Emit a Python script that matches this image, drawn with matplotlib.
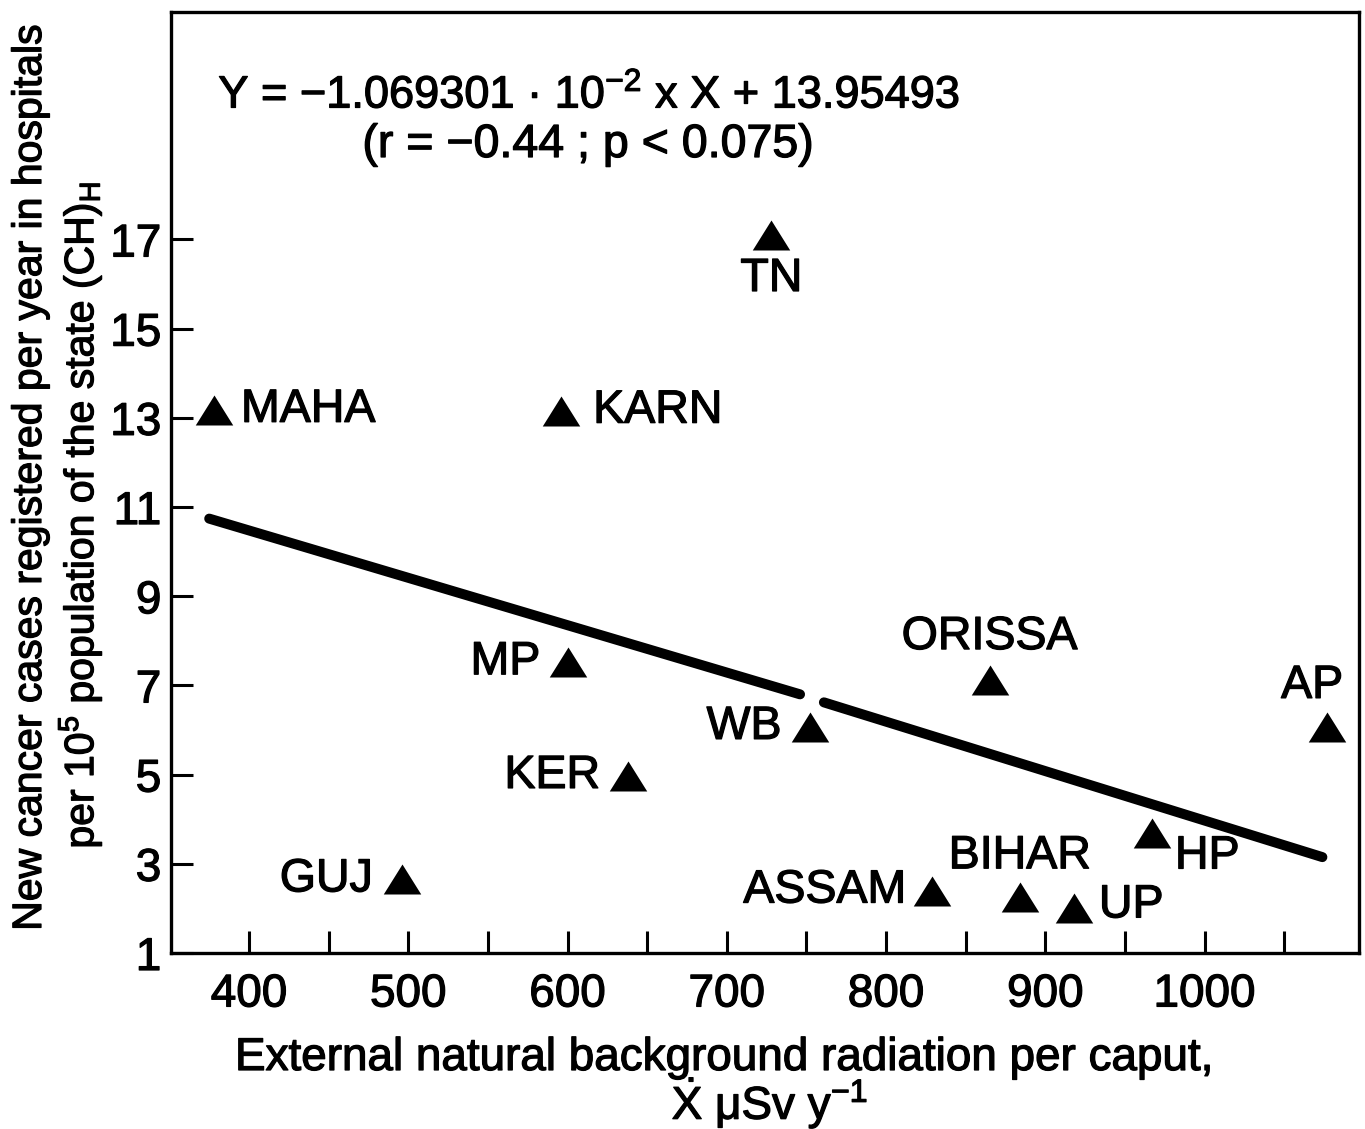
import matplotlib
matplotlib.use("Agg")
import matplotlib.pyplot as plt
import matplotlib.patheffects as pe
from matplotlib.path import Path
from matplotlib.ticker import FixedLocator

plt.rcParams['font.family'] = ['Liberation Sans', 'DejaVu Sans']
plt.rcParams['mathtext.fontset'] = 'custom'
plt.rcParams['mathtext.rm'] = 'Liberation Sans'
plt.rcParams['mathtext.it'] = 'Liberation Sans:italic'
plt.rcParams['mathtext.bf'] = 'Liberation Sans:bold'

# ---- data ----
states = ["MAHA", "KARN", "TN", "MP", "KER", "GUJ", "WB",
          "ORISSA", "AP", "HP", "ASSAM", "BIHAR", "UP"]
radiation = [378, 596, 728, 600, 638, 496, 752, 865, 1077, 967, 829, 884, 918]
cases = [13.18, 13.16, 17.1, 7.52, 4.97, 2.65, 6.07, 7.12, 6.07, 3.68, 2.4, 2.25, 2.0]

fit_seg1_x = [375, 746]
fit_seg1_y = [10.74, 6.80]
fit_seg2_x = [761, 1074]
fit_seg2_y = [6.62, 3.15]

x_major = [400, 500, 600, 700, 800, 900, 1000]
x_minor = [450, 550, 650, 750, 850, 950, 1050]
y_ticks = [1, 3, 5, 7, 9, 11, 13, 15, 17]

eq_line1 = r"Y = −1.069301 · 10$^{-2}$ x X + 13.95493"
eq_line2 = "(r = −0.44 ; p < 0.075)"
xlabel1 = "External natural background radiation per caput,"
xlabel2 = r"$\dot{\mathrm{X}}$ μSv y$^{-1}$"
ylabel1 = "New cancer cases registered per year in hospitals"
ylabel2 = r"per 10$^{5}$ population of the state (CH)$_{\mathrm{H}}$"

# label placement (pixel offsets, alignment)
label_style = {
    "MAHA": ((27, 0), "left"),
    "KARN": ((32, 0), "left"),
    "TN": ((0, -44), "center"),
    "MP": ((-27, 0), "right"),
    "KER": ((-28, 0), "right"),
    "GUJ": ((-29, 0), "right"),
    "WB": ((-28, 0), "right"),
    "ORISSA": ((0, 43), "center"),
    "AP": ((-15, 41), "center"),
    "HP": ((23, -23), "left"),
    "ASSAM": ((-26, 0), "right"),
    "BIHAR": ((0, 41), "center"),
    "UP": ((25, 3), "left"),
}

thick = [pe.withStroke(linewidth=0.9, foreground='black')]

W, H = 1365, 1129
fig = plt.figure(figsize=(W / 100, H / 100), dpi=100)
L, R, B, T = 171, 1359, 953, 12
ax = fig.add_axes([L / W, 1 - B / H, (R - L) / W, (B - T) / H])
ax.set_xlim(351, 1097)
ax.set_ylim(1, 22.1)

tri = Path([(-1, -0.8), (1, -0.8), (0, 0.8), (-1, -0.8)],
           [Path.MOVETO, Path.LINETO, Path.LINETO, Path.CLOSEPOLY])
ax.plot(radiation, cases, linestyle='none', marker=tri, markersize=27,
        color='black', markeredgewidth=0)

ax.plot(fit_seg1_x, fit_seg1_y, color='black', lw=7.2, solid_capstyle='round')
ax.plot(fit_seg2_x, fit_seg2_y, color='black', lw=7.2, solid_capstyle='round')

for name, xv, yv in zip(states, radiation, cases):
    (dx, dy), ha = label_style[name]
    ax.annotate(name, (xv, yv), xytext=(dx, dy), textcoords='offset pixels',
                ha=ha, va='center', fontsize=33.5, path_effects=thick)

ax.xaxis.set_major_locator(FixedLocator(x_major))
ax.xaxis.set_minor_locator(FixedLocator(x_minor))
ax.yaxis.set_major_locator(FixedLocator(y_ticks))
ax.tick_params(axis='x', which='both', direction='in', length=16, width=2.2,
               labelsize=33, pad=14, top=False)
ax.tick_params(axis='y', which='both', direction='in', length=16, width=2.2,
               labelsize=33, pad=7, right=False)
for lab in ax.get_xticklabels() + ax.get_yticklabels():
    lab.set_path_effects(thick)
for s in ax.spines.values():
    s.set_linewidth(2.4)

fig.text(589 / W, 1 - 95 / H, eq_line1, ha='center', va='center', fontsize=32.5,
         path_effects=thick)
fig.text(588 / W, 1 - 145 / H, eq_line2, ha='center', va='center', fontsize=33.5,
         path_effects=thick)

fig.text(725 / W, 1 - 1058 / H, xlabel1, ha='center', va='center', fontsize=33,
         path_effects=thick)
fig.text(770 / W, 1 - 1103 / H, xlabel2, ha='center', va='center', fontsize=33,
         path_effects=thick)

fig.text(30 / W, 1 - 477 / H, ylabel1, rotation=90, ha='center', va='center',
         fontsize=29.5, path_effects=thick)
fig.text(80 / W, 1 - 515 / H, ylabel2, rotation=90, ha='center', va='center',
         fontsize=29.5, path_effects=thick)

fig.savefig("out.png", dpi=100)
